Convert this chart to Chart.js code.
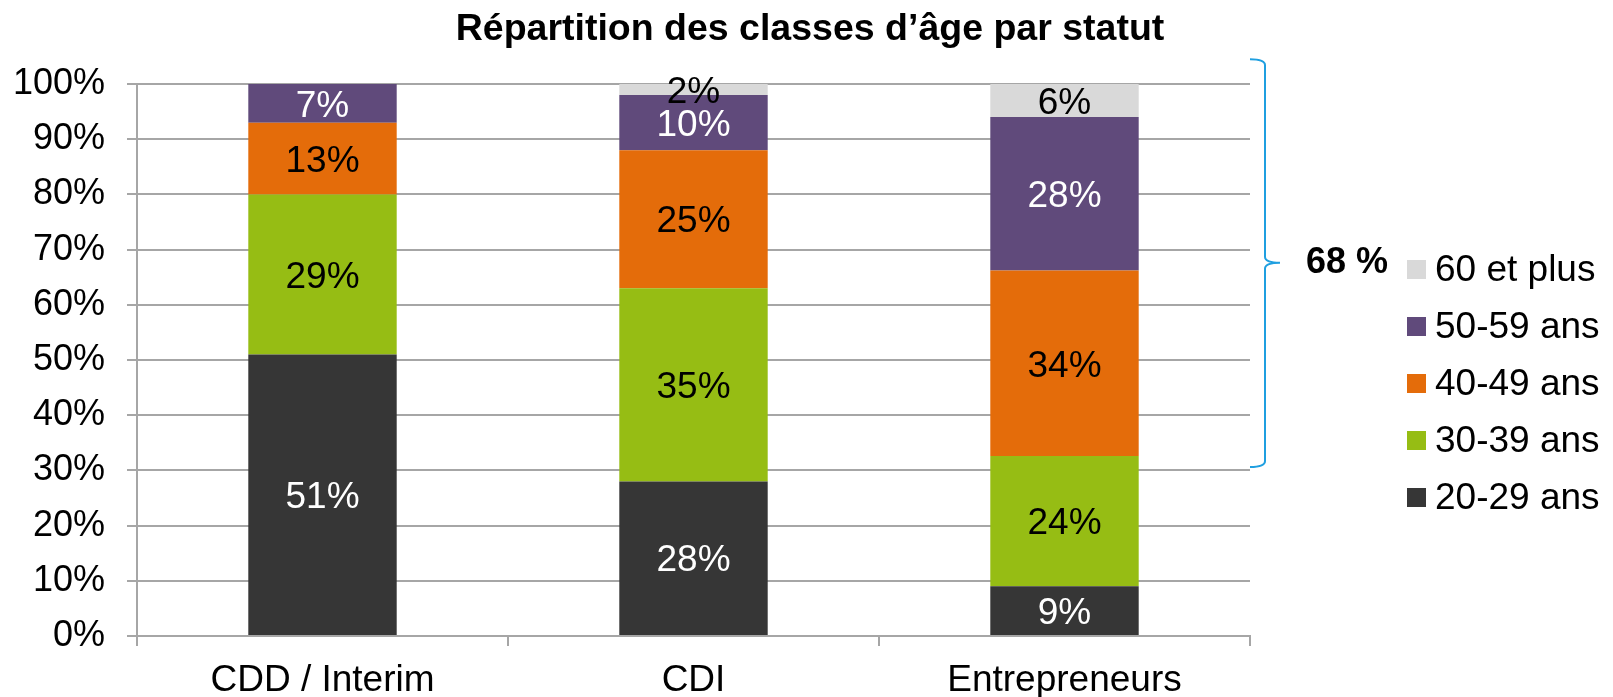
<!DOCTYPE html>
<html>
<head>
<meta charset="utf-8">
<script src="https://cdn.jsdelivr.net/npm/chart.js@4/dist/chart.umd.min.js"></script>
<style>
  html, body { margin: 0; padding: 0; background: #fff; }
  #wrap { width: 1613px; height: 697px; }
</style>
</head>
<body>
<div id="wrap"><canvas id="ageChart" width="1613" height="697"></canvas></div>
<script>
// Données
const statuts = ['CDD / Interim', 'CDI', 'Entrepreneurs'];
const classes = ['20-29 ans', '30-39 ans', '40-49 ans', '50-59 ans', '60 et plus'];
const age20 = [51, 28, 9];
const age30 = [29, 35, 23.6];
const age40 = [13, 25, 33.6];
const age50 = [7, 10, 27.8];
const age60 = [0, 2, 6];
const yTicks = [0, 10, 20, 30, 40, 50, 60, 70, 80, 90, 100];

// Accolade à droite (valeurs en % sur l'axe Y)
const accoladeDe = 30.6;
const accoladeA = 104.5;
const accoladePointe = 67.6;
const accoladeTexte = '68 %';
const titre = 'Répartition des classes d’âge par statut';

const couleurs = ['#363636', '#96bd14', '#e46c0a', '#604a7b', '#d9d9d9'];
const couleursTexte = ['#ffffff', '#000000', '#000000', '#ffffff', '#000000'];
const police = "'Liberation Sans', Arial, sans-serif";
const gris = '#a6a6a6';

const series = [age20, age30, age40, age50, age60];

// Étiquettes de valeur au centre de chaque segment
const etiquettes = {
    id: 'etiquettes',
    afterDatasetsDraw(chart) {
        const ctx = chart.ctx;
        ctx.save();
        ctx.font = '37px ' + police;
        ctx.textAlign = 'center';
        ctx.textBaseline = 'middle';
        chart.data.datasets.forEach((ds, d) => {
            const meta = chart.getDatasetMeta(d);
            meta.data.forEach((bar, i) => {
                const v = ds.data[i];
                if (!v) return;
                ctx.fillStyle = couleursTexte[d];
                ctx.fillText(Math.round(v) + '%', bar.x, (bar.y + bar.base) / 2 + 3);
            });
        });
        ctx.restore();
    }
};

// Titre, accolade bleue, texte "68 %" et légende
const decor = {
    id: 'decor',
    afterDraw(chart) {
        const ctx = chart.ctx;
        const y = chart.scales.y;
        ctx.save();

        // titre centré sur toute la largeur
        ctx.fillStyle = '#000';
        ctx.font = 'bold 37.5px ' + police;
        ctx.textAlign = 'center';
        ctx.textBaseline = 'middle';
        ctx.fillText(titre, 810, 30);

        const x0 = chart.chartArea.right;
        const xv = x0 + 15;
        const xp = x0 + 30;
        const yt = y.getPixelForValue(accoladeA);
        const yb = y.getPixelForValue(accoladeDe);
        const ym = y.getPixelForValue(accoladePointe);
        ctx.strokeStyle = '#1f9fe0';
        ctx.lineWidth = 2;
        ctx.beginPath();
        ctx.moveTo(x0, yt);
        ctx.quadraticCurveTo(xv, yt, xv, yt + 6);
        ctx.lineTo(xv, ym - 6);
        ctx.quadraticCurveTo(xv, ym, xp, ym);
        ctx.quadraticCurveTo(xv, ym, xv, ym + 6);
        ctx.lineTo(xv, yb - 6);
        ctx.quadraticCurveTo(xv, yb, x0, yb);
        ctx.stroke();

        ctx.font = 'bold 36px ' + police;
        ctx.fillText(accoladeTexte, x0 + 97, ym);

        // légende (ordre inversé : 60 et plus en haut)
        ctx.font = '37px ' + police;
        ctx.textAlign = 'left';
        const lx = 1407;
        let ly = 270;
        for (let d = chart.data.datasets.length - 1; d >= 0; d--) {
            const ds = chart.data.datasets[d];
            ctx.fillStyle = ds.backgroundColor;
            ctx.fillRect(lx, ly - 10, 19, 19);
            ctx.fillStyle = '#000';
            ctx.fillText(ds.label, lx + 28, ly + 1);
            ly += 57;
        }
        ctx.restore();
    }
};

const ctx = document.getElementById('ageChart').getContext('2d');

const chart = new Chart(ctx, {
    type: 'bar',
    data: {
        labels: statuts,
        datasets: series.map((s, i) => ({
            label: classes[i],
            data: s,
            backgroundColor: couleurs[i],
            borderWidth: 0,
            barPercentage: 0.4,
            categoryPercentage: 1
        }))
    },
    options: {
        responsive: false,
        animation: false,
        layout: { padding: { left: 0, right: 363, top: 84, bottom: 0 } },
        plugins: {
            legend: { display: false },
            tooltip: { enabled: false },
            title: { display: false }
        },
        scales: {
            x: {
                stacked: true,
                grid: { offset: true, drawOnChartArea: false, drawTicks: true, tickLength: 10, color: gris, lineWidth: 2 },
                border: { color: gris, width: 2 },
                ticks: { color: '#000', font: { family: police, size: 37 }, padding: 13 },
                afterFit(scale) { scale.height = 61; }
            },
            y: {
                stacked: true,
                min: 0,
                max: 100,
                afterBuildTicks(scale) { scale.ticks = yTicks.map(v => ({ value: v })); },
                grid: { color: gris, lineWidth: 2, tickLength: 10 },
                border: { color: gris, width: 2 },
                ticks: {
                    color: '#000',
                    font: { family: police, size: 36 },
                    padding: 22,
                    callback: v => v + '%'
                },
                afterFit(scale) { scale.width = 137; }
            }
        }
    },
    plugins: [etiquettes, decor]
});
</script>
</body>
</html>
